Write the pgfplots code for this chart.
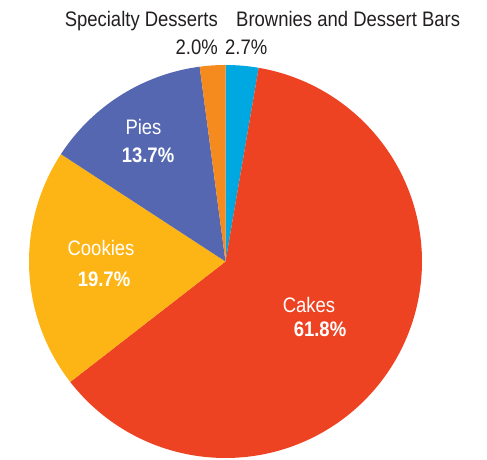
\documentclass[border=0pt]{standalone}
\usepackage{pgfplots}
\pgfplotsset{compat=1.18}
\usepackage{fontspec}
\setmainfont{Liberation Sans}[FakeStretch=0.88]
\definecolor{cakes}{HTML}{EE4323}
\definecolor{cookies}{HTML}{FDB515}
\definecolor{pies}{HTML}{5567B0}
\definecolor{spec}{HTML}{F58A1F}
\definecolor{brownie}{HTML}{00A8E1}
\definecolor{txt}{HTML}{231F20}
% data (percent), clockwise from 12 o'clock
\def\vBrownies{2.7}
\def\vCakes{61.8}
\def\vCookies{19.7}
\def\vPies{13.7}
\def\vSpec{2.0}
\pgfmathsetmacro{\aA}{90}
\pgfmathsetmacro{\aB}{\aA-3.6*\vBrownies}
\pgfmathsetmacro{\aC}{\aB-3.6*\vCakes}
\pgfmathsetmacro{\aD}{\aC-3.6*\vCookies}
\pgfmathsetmacro{\aE}{\aD-3.6*\vPies}
\pgfmathsetmacro{\aF}{-270}
\def\pieX{225.5}
\def\pieY{198.5}
\def\pieR{196.5}
\newcommand\lbl{\fontsize{21bp}{24bp}\selectfont}
\begin{document}
\begin{tikzpicture}
\begin{axis}[x=1bp, y=1bp,
  xmin=0, xmax=487, ymin=0, ymax=460, hide axis, clip=false]
\path (rel axis cs:0,0) rectangle (rel axis cs:1,1);
\addplot[draw=none, fill=brownie, domain=\aB:\aA, samples=20]
  ({\pieX+\pieR*cos(x)}, {\pieY+\pieR*sin(x)}) -- (axis cs:\pieX,\pieY) -- cycle;
\addplot[draw=none, fill=cakes, domain=\aC:\aB, samples=200]
  ({\pieX+\pieR*cos(x)}, {\pieY+\pieR*sin(x)}) -- (axis cs:\pieX,\pieY) -- cycle;
\addplot[draw=none, fill=cookies, domain=\aD:\aC, samples=80]
  ({\pieX+\pieR*cos(x)}, {\pieY+\pieR*sin(x)}) -- (axis cs:\pieX,\pieY) -- cycle;
\addplot[draw=none, fill=pies, domain=\aE:\aD, samples=60]
  ({\pieX+\pieR*cos(x)}, {\pieY+\pieR*sin(x)}) -- (axis cs:\pieX,\pieY) -- cycle;
\addplot[draw=none, fill=spec, domain=\aF:\aE, samples=20]
  ({\pieX+\pieR*cos(x)}, {\pieY+\pieR*sin(x)}) -- (axis cs:\pieX,\pieY) -- cycle;
% labels
\node[anchor=base east, text=txt, inner sep=0pt, font=\lbl] at (axis cs:218,433) {Specialty Desserts};
\node[anchor=base east, text=txt, inner sep=0pt, font=\lbl] at (axis cs:218,405) {2.0\%};
\node[anchor=base west, text=txt, inner sep=0pt, font=\lbl] at (axis cs:236,433) {Brownies and Dessert Bars};
\node[anchor=base west, text=txt, inner sep=0pt, font=\lbl] at (axis cs:225,405) {2.7\%};
\node[anchor=base, text=white, inner sep=0pt, font=\lbl] at (axis cs:143.5,325) {Pies};
\node[anchor=base, text=white, inner sep=0pt, font=\lbl\bfseries] at (axis cs:148,297) {13.7\%};
\node[anchor=base, text=white, inner sep=0pt, font=\lbl] at (axis cs:101,204) {Cookies};
\node[anchor=base, text=white, inner sep=0pt, font=\lbl\bfseries] at (axis cs:104,173) {19.7\%};
\node[anchor=base, text=white, inner sep=0pt, font=\lbl] at (axis cs:309,147) {Cakes};
\node[anchor=base, text=white, inner sep=0pt, font=\lbl\bfseries] at (axis cs:320,123) {61.8\%};
\end{axis}
\end{tikzpicture}
\end{document}
